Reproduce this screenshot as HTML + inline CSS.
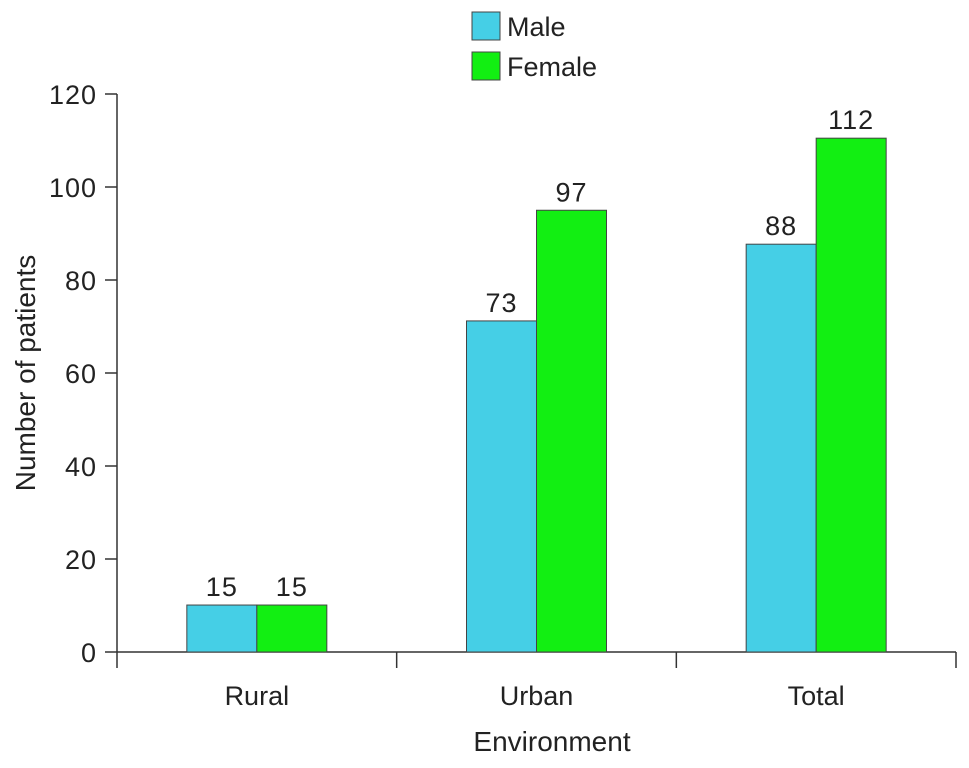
<!DOCTYPE html>
<html><head><meta charset="utf-8"><style>
body{margin:0;background:#fff;}
svg text{font-family:"Liberation Sans",Arial,sans-serif;fill:#222;}
</style></head><body>
<svg id="chart" width="969" height="763" xmlns="http://www.w3.org/2000/svg"></svg>
<script>
const categories = ["Rural","Urban","Total"];
const maleValues = [10.1, 71.2, 87.7];
const femaleValues = [10.1, 95, 110.5];
const maleLabels = ["15","73","88"];
const femaleLabels = ["15","97","112"];
const yTicks = [0,20,40,60,80,100,120];

const svg = document.getElementById('chart');
const NS = 'http://www.w3.org/2000/svg';
const x0 = 117, x1 = 956, yBase = 652, yTop = 94, yMax = 120;
const catW = (x1 - x0) / categories.length;
const barW = 70;
function yScale(v){ return yBase - v / yMax * (yBase - yTop); }
function xCenter(i){ return x0 + catW * (i + 0.5); }
function mk(tag, attrs, parent){
  const e = document.createElementNS(NS, tag);
  for (const k in attrs) e.setAttribute(k, attrs[k]);
  (parent || svg).appendChild(e);
  return e;
}
const yAxis = mk('line', {x1:x0, y1:yTop, x2:x0, y2:yBase, stroke:'#333', 'stroke-width':1.5});


yTicks.forEach(t => {
  const y = yScale(t);
  const tk = mk('line', {x1:x0-12, y1:y, x2:x0, y2:y, stroke:'#333', 'stroke-width':1.5});
  
  
  const lb = mk('text', {x:x0-20, y:y+10, 'text-anchor':'end', 'font-size':27, 'letter-spacing':1});
  lb.textContent = t;
  
  
});
const xAxis = mk('line', {x1:x0, y1:yBase, x2:x1, y2:yBase, stroke:'#333', 'stroke-width':1.5});


for (let i = 0; i <= categories.length; i++) {
  const x = x0 + catW * i;
  const tk = mk('line', {x1:x, y1:yBase, x2:x, y2:yBase+16, stroke:'#333', 'stroke-width':1.5});
  
  
}
categories.forEach((c, i) => {
  const cx = xCenter(i);
  const lb = mk('text', {x:cx, y:705, 'text-anchor':'middle', 'font-size':27});
  lb.textContent = c;
  
  
  [[maleValues, maleLabels, '#45cfe6', cx - barW, 'male'], [femaleValues, femaleLabels, '#12ef12', cx, 'female']].forEach(s => {
    const v = s[0][i], y = yScale(v);
    const r = mk('rect', {x:s[3], y:y, width:barW, height:yBase - y, fill:s[2], stroke:'#444', 'stroke-width':1});
    
    
    const t = mk('text', {x:s[3] + barW/2, y:y - 9, 'text-anchor':'middle', 'font-size':27, 'letter-spacing':1});
    t.textContent = s[1][i];
    
    
  });
});
const yt = mk('text', {x:0, y:0, 'text-anchor':'middle', 'font-size':28, transform:'translate(35,' + ((yTop+yBase)/2) + ') rotate(-90)'});
yt.textContent = 'Number of patients';


const xt = mk('text', {x:552, y:751, 'text-anchor':'middle', 'font-size':28});
xt.textContent = 'Environment';


[['Male','#45cfe6',12],['Female','#12ef12',52]].forEach(l => {
  const g = mk('g', {});
  
  
  mk('rect', {x:472, y:l[2], width:28, height:28, fill:l[1], stroke:'#444', 'stroke-width':1}, g);
  const t = mk('text', {x:507, y:l[2]+24, 'font-size':27}, g);
  t.textContent = l[0];
});
</script>
</body></html>
